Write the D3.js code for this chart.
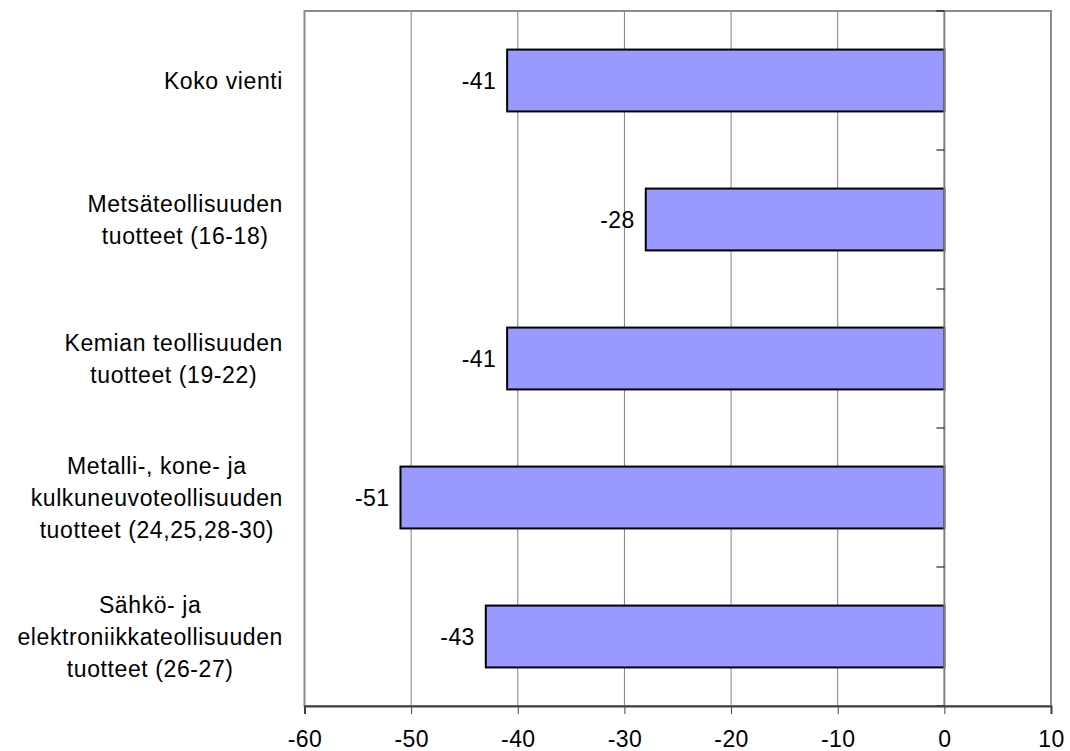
<!DOCTYPE html>
<html><head><meta charset="utf-8">
<script src="https://cdn.jsdelivr.net/npm/d3@7"></script>
<style>body{margin:0;background:#fff}svg{display:block}text{font-family:"Liberation Sans",Arial,sans-serif;fill:#000}</style>
</head><body><svg id="c" width="1070" height="751"></svg>
<script>
const categories = [
  ["Koko vienti"],
  ["Metsäteollisuuden","tuotteet (16-18)"],
  ["Kemian teollisuuden","tuotteet (19-22)"],
  ["Metalli-, kone- ja","kulkuneuvoteollisuuden","tuotteet (24,25,28-30)"],
  ["Sähkö- ja","elektroniikkateollisuuden","tuotteet (26-27)"]
];
const values = [-41, -28, -41, -51, -43];
const xTicks = [-60,-50,-40,-30,-20,-10,0,10];

const svg = d3.select("#c");
const L=304.5, R=1051, T=11, B=706;
const fs = 23;
const x = d3.scaleLinear().domain([-60,10]).range([L,R]);
const y = d3.scaleBand().domain(d3.range(categories.length)).range([T,B]).paddingInner(0.555).paddingOuter(0.2775);

// gridlines
svg.append("g").selectAll("line").data(xTicks.filter(d=>d>-60 && d<10 && d!==0)).join("line")
  .attr("x1",d=>x(d)).attr("x2",d=>x(d)).attr("y1",T).attr("y2",B)
  .attr("stroke","#808080").attr("stroke-width",1);
// plot border
svg.append("rect").attr("x",L).attr("y",T).attr("width",R-L).attr("height",B-T)
  .attr("fill","none").attr("stroke","#8c8c8c").attr("stroke-width",2);

// bars
svg.append("g").selectAll("rect").data(values).join("rect")
  .attr("x",d=>x(Math.min(d,0))).attr("width",d=>Math.abs(x(d)-x(0)))
  .attr("y",(d,i)=>y(i)).attr("height",y.bandwidth())
  .attr("fill","#9999ff").attr("stroke","#000").attr("stroke-width",2);

// zero axis
svg.append("line").attr("x1",x(0)).attr("x2",x(0)).attr("y1",T).attr("y2",B)
  .attr("stroke","#808080").attr("stroke-width",2);
const step = (B-T)/categories.length;
svg.append("g").selectAll("line").data(d3.range(categories.length+1)).join("line")
  .attr("x1",x(0)-8).attr("x2",x(0)).attr("y1",i=>T+i*step).attr("y2",i=>T+i*step)
  .attr("stroke","#000").attr("stroke-width",1);

// bottom axis
const xAxis = d3.axisBottom(x).tickValues(xTicks).tickSize(8).tickFormat(d=>String(d));
const ax = svg.append("g").attr("transform",`translate(0,${B})`).call(xAxis);
ax.select(".domain").attr("stroke","#404040").attr("stroke-width",2);
ax.selectAll(".tick line").attr("stroke","#404040");
ax.selectAll(".tick text").attr("font-size",fs).attr("font-family",'"Liberation Sans",Arial,sans-serif')
  .attr("fill","#000").attr("dy","0.35em").attr("y",33).style("letter-spacing","0.4px");

// value labels
svg.append("g").selectAll("text").data(values).join("text")
  .attr("x",d=>x(d)-11).attr("y",(d,i)=>y(i)+y.bandwidth()/2).attr("dy","0.35em")
  .attr("text-anchor","end").attr("font-size",fs).style("letter-spacing","0.4px").text(d=>d);

// category labels
const lh = 32, rightEdge = 283;
categories.forEach((lines,i)=>{
  const cy = T + (i+0.5)*step;
  const g = svg.append("g");
  const ts = lines.map((s,j)=>g.append("text").attr("font-size",fs).attr("text-anchor","middle")
    .style("letter-spacing","0.6px")
    .attr("y", cy + (j-(lines.length-1)/2)*lh).attr("dy","0.35em").text(s));
  const w = d3.max(ts, t=>t.node().getComputedTextLength());
  ts.forEach(t=>t.attr("x", rightEdge - w/2));
});
</script></body></html>
